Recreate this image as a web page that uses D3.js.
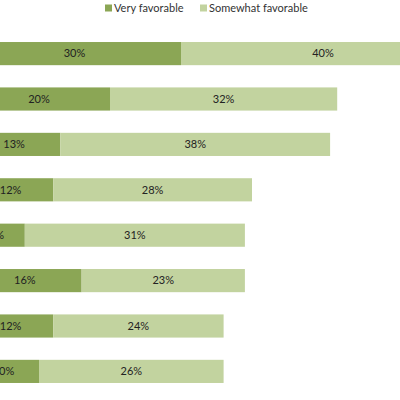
<!DOCTYPE html>
<html>
<head>
<meta charset="utf-8">
<script src="https://cdn.jsdelivr.net/npm/d3@7"></script>
<style>
  body { margin: 0; background: #fff; }
  svg { display: block; }
</style>
</head>
<body>
<div class="chart"></div>
<script>
// rows top to bottom (category labels are cropped off the left edge)
const categories = ["r1", "r2", "r3", "r4", "r5", "r6", "r7", "r8"];
const veryFavorable = [30, 20, 13, 12, 8, 16, 12, 10];
const somewhatFavorable = [40, 32, 38, 28, 31, 23, 24, 26];
const seriesNames = ["Very favorable", "Somewhat favorable"];
const colors = ["#8ba655", "#c2d39f"];

const width = 400, height = 400;
const font = "Lato, 'Open Sans', sans-serif";

const svg = d3.select(".chart")
  .append("svg")
    .attr("width", width)
    .attr("height", height);

// plot area starts left of the visible window
const g = svg.append("g")
    .attr("transform", "translate(-32,0)");

const x = d3.scaleLinear()
    .domain([0, 100])
    .range([0, 710]);

const y = d3.scaleBand()
    .domain(categories)
    .range([30.9, 394.1])
    .paddingInner(0.49)
    .paddingOuter(0.245);

const rows = categories.map((c, i) => ({
  cat: c,
  segs: [
    {s: 0, x0: 0, x1: veryFavorable[i], v: veryFavorable[i]},
    {s: 1, x0: veryFavorable[i], x1: veryFavorable[i] + somewhatFavorable[i], v: somewhatFavorable[i]}
  ]
}));

const row = g.selectAll(".row")
  .data(rows)
  .enter()
  .append("g")
    .attr("transform", d => "translate(0," + y(d.cat) + ")");

const seg = row.selectAll(".seg")
  .data(d => d.segs)
  .enter()
  .append("g");

seg.append("rect")
    .attr("x", d => x(d.x0))
    .attr("width", d => x(d.x1) - x(d.x0))
    .attr("height", y.bandwidth())
    .attr("fill", d => colors[d.s]);

seg.append("text")
    .attr("x", d => (x(d.x0) + x(d.x1)) / 2)
    .attr("y", y.bandwidth() / 2)
    .attr("dy", "0.35em")
    .attr("text-anchor", "middle")
    .style("font-family", font)
    .style("font-size", "11px")
    .attr("fill", "#222")
    .text(d => d.v + "%");

// legend
const legend = svg.append("g")
    .attr("transform", "translate(105,8)");

const legendX = [0, 95];
const item = legend.selectAll(".item")
  .data(seriesNames)
  .enter()
  .append("g")
    .attr("transform", (d, i) => "translate(" + legendX[i] + ",0)");

item.append("rect")
    .attr("x", 0)
    .attr("y", -3.5)
    .attr("width", 7)
    .attr("height", 7)
    .attr("fill", (d, i) => colors[i]);

item.append("text")
    .attr("x", 9)
    .attr("dy", "0.35em")
    .style("font-family", font)
    .style("font-size", "11px")
    .attr("fill", "#333")
    .text(d => d);
</script>
</body>
</html>
